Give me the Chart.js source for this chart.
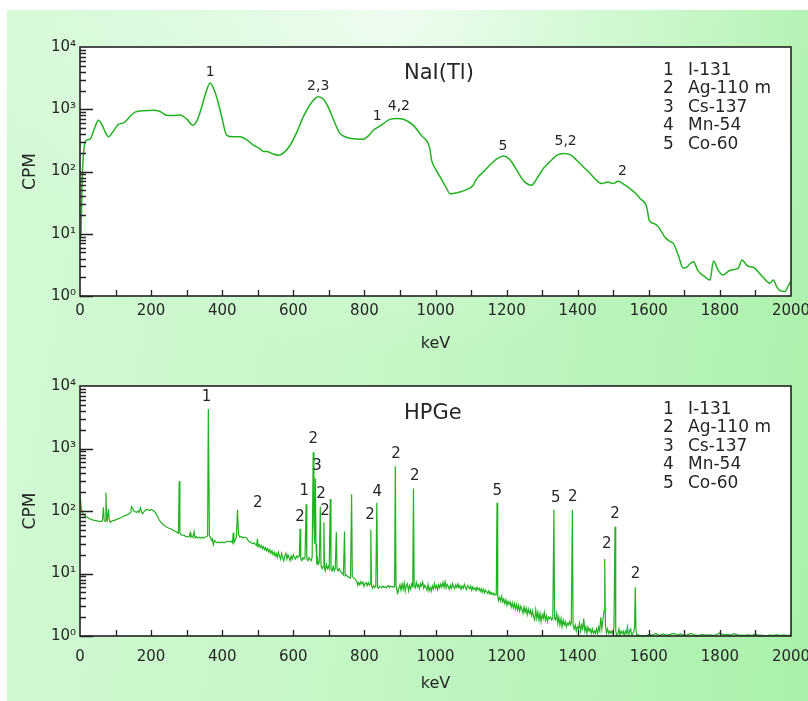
<!DOCTYPE html>
<html>
<head>
<meta charset="utf-8">
<script src="https://cdn.jsdelivr.net/npm/chart.js@4.4.1/dist/chart.umd.min.js"></script>
<style>
  html, body { margin:0; padding:0; background:#ffffff; width:808px; height:701px; overflow:hidden; }
  #bg { position:absolute; left:7px; top:10px; width:801px; height:691px;
        background:
          radial-gradient(ellipse 55% 50% at 48% 0%, rgba(255,255,255,0.7) 0%, rgba(255,255,255,0.35) 45%, rgba(255,255,255,0) 100%),
          linear-gradient(100deg, #d4f9d6 0%, #c6f7c8 45%, #aaf1aa 100%); }
  .box { position:absolute; left:0; width:808px; }
  #topBox { top:0; height:360px; }
  #botBox { top:360px; height:341px; }
</style>
</head>
<body>
<div id="bg"></div>
<div class="box" id="topBox"><canvas id="naiChart" width="808" height="360"></canvas></div>
<div class="box" id="botBox"><canvas id="hpgeChart" width="808" height="341"></canvas></div>
<script>
// ---------- DATA ----------
const nuclideNumbers = ['1','2','3','4','5'];
const nuclideNames = ['I-131','Ag-110 m','Cs-137','Mn-54','Co-60'];
const yTickValues = [1, 10, 100, 1000, 10000];
const yTickLabels = ['10\u2070','10\u00B9','10\u00B2','10\u00B3','10\u2074'];

// NaI(Tl) spectrum: [keV, CPM]
const naiSpectrum = [[0,8],[3,11],[6,70],[10,200],[17,315],[28,330],[40,480],[52,665],[62,560],[72,420],[80,360],[92,430],[108,570],[124,610],[140,760],[155,900],[180,950],[206,965],[225,920],[244,800],[262,790],[281,810],[300,700],[317,555],[328,640],[340,980],[352,1700],[366,2650],[378,2000],[389,1260],[400,700],[412,385],[430,360],[450,360],[470,320],[488,265],[505,235],[516,210],[525,210],[540,195],[558,183],[575,205],[591,264],[610,430],[628,755],[650,1250],[670,1590],[685,1450],[698,1095],[715,640],[731,410],[750,355],[769,335],[797,330],[808,360],[816,400],[825,460],[844,540],[870,680],[891,710],[910,690],[937,555],[960,380],[984,235],[989,152],[1000,110],[1013,82],[1030,55],[1041,44],[1069,47],[1090,52],[1106,60],[1113,72],[1120,82],[1136,100],[1153,127],[1175,162],[1191,177],[1207,160],[1223,119],[1240,82],[1251,68],[1270,60],[1282,72],[1294,93],[1305,115],[1317,135],[1325,150],[1340,180],[1360,195],[1380,185],[1397,152],[1415,120],[1435,93],[1450,75],[1467,64],[1476,66],[1486,68],[1494,65],[1500,64],[1514,70],[1530,62],[1547,53],[1562,45],[1575,37],[1594,27],[1601,16.6],[1615,14.5],[1627,12.9],[1646,8.7],[1660,7.5],[1669,7.0],[1683,4.5],[1697,2.8],[1707,2.9],[1716,3.3],[1726,3.55],[1738,2.55],[1755,2.1],[1772,1.8],[1782,3.65],[1795,2.6],[1808,2.17],[1829,2.6],[1852,2.8],[1862,3.8],[1876,3.1],[1885,2.95],[1894,2.9],[1915,2.2],[1941,1.6],[1950,1.8],[1960,1.4],[1969,1.22],[1983,1.18],[1992,1.45],[1999,1.7]];

// HPGe spectrum: [keV, CPM]
const hpgeSpectrum = [[0,190],[3,120],[6,95],[10,88],[15,82],[20,80],[25,76],[30,74],[35,72],[40,71],[45,70],[50,69],[55,68],[60,68],[63,70],[66,115],[68,72],[71,68],[73,195],[75,80],[77,72],[80,108],[82,75],[85,66],[88,68],[92,70],[96,71],[100,72],[105,74],[110,76],[115,78],[120,80],[125,84],[130,86],[135,88],[140,92],[143,96],[145,118],[148,110],[151,100],[155,98],[159,95],[163,100],[166,94],[170,112],[173,96],[176,90],[180,98],[184,103],[188,106],[192,104],[196,102],[200,106],[204,104],[208,100],[212,94],[216,86],[220,78],[224,70],[228,66],[232,62],[236,59],[240,57],[245,55],[250,53],[255,52],[260,50],[265,48],[270,47],[274,45],[277,44],[279,300],[281,46],[283,42],[287,41],[291,41],[295,40],[299,39],[303,39],[307,39],[310,45],[312,38],[315,40],[318,38],[321,47],[324,37],[328,39],[332,37],[336,38],[340,37],[344,38],[348,37],[352,38],[356,39],[359,40],[361,4300],[364,40],[367,38],[370,34],[372,36],[375,29],[378,34],[382,32],[386,31],[390,32],[395,31],[400,32],[405,31],[410,32],[415,33],[420,32],[425,33],[429,31],[431,45],[433,31],[436,34],[440,38],[443,105],[446,42],[450,38],[454,39],[458,37],[462,38],[466,38],[470,36],[474,33],[478,32],[482,31],[486,30],[490,31],[494,29],[497,28],[499,36],[501,27],[504,29],[507,26],[510,28],[513,25],[516,27],[519,24],[522,26],[525,23],[528,25],[531,22],[534,24],[537,21],[540,23],[543,20],[546,22],[549,19],[552,21],[555,18],[558,22],[561,19],[564,17],[567,21],[570,18],[573,16],[576,19],[579,21],[582,17],[585,20],[588,18],[591,16],[594,19],[597,17],[600,20],[603,18],[606,17],[609,19],[612,18],[615,19],[617,19],[619,52],[621,17],[624,16],[627,18],[630,17],[633,18],[636,128],[638,17],[641,16],[644,18],[647,17],[650,16],[653,18],[656,870],[658,60],[660,30],[662,330],[664,30],[666,14],[668,17],[670,14],[673,15],[676,118],[678,13],[681,12],[684,13],[686,66],[688,12],[690,11],[693,14],[696,12],[699,13],[701,12],[704,155],[706,12],[709,11],[712,13],[715,11],[718,12],[721,46],[723,12],[726,11],[729,12],[732,11],[735,10.5],[738,10],[741,9.5],[744,47],[746,9.2],[749,9.5],[752,9],[755,8.8],[758,8.6],[761,8.5],[764,185],[766,9],[769,8.5],[772,8.3],[775,8],[778,7.6],[781,6.5],[784,7.2],[787,6.6],[790,7.4],[793,6.8],[796,7.3],[799,6.2],[802,6.9],[805,7.1],[808,6.4],[811,7.2],[814,6.5],[816,6.8],[818,50],[820,6.3],[823,5.8],[826,6.4],[829,6],[832,6.2],[835,135],[837,6],[840,5.8],[843,6.2],[846,6.1],[849,5.9],[852,6.3],[855,6],[858,6.1],[861,5.9],[864,6.2],[867,6.4],[870,6],[873,6.3],[876,6.1],[879,6.2],[882,6],[885,6.3],[887,520],[889,6.2],[891,5.5],[894,4.9],[897,5.8],[900,6.6],[903,5.4],[906,6.8],[909,5.6],[912,7.1],[915,5.2],[918,6.5],[921,6.9],[924,5.3],[927,6.4],[930,5.6],[933,6.8],[936,6.2],[938,230],[940,6.4],[943,5.9],[946,7.2],[949,6.1],[952,6.6],[955,5.7],[958,6.9],[961,6.3],[964,7.3],[967,5.8],[970,6.5],[973,6.1],[976,5.4],[979,6.7],[982,5.3],[985,6.0],[988,5.2],[991,6.3],[994,5.6],[997,6.9],[1000,5.8],[1003,6.4],[1006,5.5],[1009,6.6],[1012,5.9],[1015,6.8],[1018,6.1],[1021,7.2],[1024,6.0],[1027,7.4],[1030,5.9],[1033,6.7],[1036,6.2],[1039,5.6],[1042,6.5],[1045,5.8],[1048,6.9],[1051,6.1],[1054,5.7],[1057,6.6],[1060,6.0],[1063,6.8],[1066,5.9],[1069,6.4],[1072,5.6],[1075,6.3],[1078,5.8],[1081,6.7],[1084,6.0],[1087,5.5],[1090,6.4],[1093,6.1],[1096,5.7],[1099,6.3],[1102,5.4],[1105,6.1],[1108,5.6],[1111,5.9],[1114,5.3],[1117,6.0],[1120,5.5],[1123,5.8],[1126,5.2],[1129,5.7],[1132,5.0],[1135,5.6],[1138,4.9],[1141,5.4],[1144,5.1],[1147,4.8],[1150,5.3],[1153,4.7],[1156,5.0],[1159,4.6],[1162,4.9],[1165,4.5],[1168,4.7],[1171,4.6],[1173,135],[1175,4.4],[1177,3.7],[1180,4.1],[1183,3.6],[1186,4.3],[1189,3.5],[1192,3.9],[1195,3.3],[1198,3.8],[1201,3.1],[1204,3.6],[1207,3.2],[1210,3.5],[1213,2.9],[1216,3.4],[1219,2.8],[1222,3.3],[1225,2.7],[1228,3.2],[1231,2.6],[1234,3.1],[1237,2.5],[1240,3.0],[1243,2.7],[1246,2.3],[1249,2.9],[1252,2.4],[1255,2.8],[1258,2.2],[1261,2.7],[1264,2.3],[1267,2.6],[1270,2.1],[1273,2.5],[1276,2.0],[1279,1.8],[1282,2.6],[1285,1.9],[1288,2.4],[1291,1.8],[1294,2.3],[1297,1.7],[1300,2.2],[1303,1.9],[1306,2.4],[1309,1.8],[1312,2.1],[1315,1.7],[1318,2.0],[1321,1.9],[1324,2.0],[1327,1.8],[1330,1.9],[1333,105],[1335,1.9],[1338,1.8],[1341,2.3],[1344,1.6],[1347,2.0],[1350,1.5],[1353,1.9],[1356,1.4],[1359,1.8],[1362,1.5],[1365,1.7],[1368,1.4],[1371,1.6],[1374,1.5],[1377,1.7],[1380,1.5],[1382,1.6],[1385,105],[1387,1.5],[1390,1.3],[1393,1.5],[1396,1.2],[1399,1.4],[1402,1.3],[1405,1.6],[1408,1.2],[1411,1.5],[1414,1.3],[1417,1.9],[1420,1.2],[1423,1.4],[1426,1.1],[1429,1.4],[1432,1.2],[1435,1.3],[1438,1.1],[1441,1.3],[1444,1.1],[1447,1.2],[1450,1.1],[1453,1.3],[1456,1.1],[1459,1.4],[1462,1.2],[1465,2.0],[1468,1.3],[1471,1.8],[1474,2.5],[1476,17],[1478,1.5],[1481,1.1],[1484,1.3],[1487,1.1],[1490,1.2],[1493,1.1],[1496,1.2],[1499,1.1],[1502,1.4],[1505,56],[1507,1.2],[1510,1.0],[1513,1.1],[1516,1.3],[1519,1.0],[1522,1.2],[1525,1.1],[1528,1.2],[1531,1.0],[1534,1.2],[1537,1.1],[1540,1.4],[1543,1.0],[1546,1.2],[1549,1.3],[1552,1.0],[1555,1.1],[1558,1.2],[1560,1.4],[1562,6.0],[1564,1.2],[1567,1.0],[1570,1.05],[1575,1.0],[1580,1.02],[1590,1.0],[1600,1.05],[1610,1.03],[1620,1.1],[1630,1.02],[1640,1.08],[1650,1.03],[1660,1.06],[1670,1.1],[1680,1.04],[1690,1.08],[1700,1.02],[1710,1.05],[1720,1.1],[1730,1.03],[1740,1.02],[1750,1.06],[1760,1.03],[1770,1.04],[1780,1.02],[1790,1.05],[1800,1.12],[1810,1.04],[1820,1.06],[1830,1.03],[1840,1.09],[1850,1.04],[1860,1.03],[1870,1.02],[1880,1.04],[1890,1.02],[1900,1.08],[1910,1.03],[1920,1.02],[1930,1.01],[1940,1.03],[1950,1.02],[1960,1.04],[1970,1.02],[1980,1.03],[1990,1.02],[2000,1.03]];

// Peak labels: [keV, CPM at label, text]
const naiPeakLabels = [[366,3870,'1'],[670,2330,'2,3'],[836,760,'1'],[897,1120,'4,2'],[1190,253,'5'],[1366,305,'5,2'],[1526,100,'2']];
const hpgePeakLabels = [[356,6600,'1'],[656,1420,'2'],[667,528,'3'],[631,205,'1'],[678,185,'2'],[689,100,'2'],[619,80,'2'],[500,136,'2'],[836,197,'4'],[816,86,'2'],[889,813,'2'],[942,364,'2'],[1174,209,'5'],[1338,159,'5'],[1386,164,'2'],[1505,88,'2'],[1482,29,'2'],[1563,9.9,'2']];

// ---------- RENDERING ----------
const FONT = "'DejaVu Sans', 'Liberation Sans', sans-serif";
const TEXT = '#262626';
const LINE = '#20b220';

function frameAndText(opts) {
  return {
    id: 'frameAndText',
    beforeDraw(chart) {
      const {ctx, chartArea: a} = chart;
      ctx.save();
      ctx.fillStyle = '#ffffff';
      ctx.fillRect(a.left, a.top, a.right - a.left, a.bottom - a.top);
      ctx.restore();
    },
    afterDraw(chart) {
      const {ctx, chartArea: a, scales: {x, y}} = chart;
      ctx.save();
      ctx.strokeStyle = '#222';
      ctx.lineWidth = 1.3;
      ctx.beginPath();
      for (let v = 100; v < 2000; v += 100) {
        const px = Math.round(x.getPixelForValue(v)) + 0.5;
        ctx.moveTo(px, a.bottom); ctx.lineTo(px, a.bottom - 6);
      }
      for (let d = 0; d < 4; d++) {
        for (let m = 1; m < 10; m++) {
          const v = m * Math.pow(10, d);
          const py = Math.round(y.getPixelForValue(v)) + 0.5;
          const len = m === 1 ? 13 : 6;
          ctx.moveTo(a.left, py); ctx.lineTo(a.left + len, py);
        }
      }
      ctx.stroke();
      ctx.lineWidth = 1.6;
      ctx.strokeRect(a.left, a.top, a.right - a.left, a.bottom - a.top);

      // peak labels
      ctx.fillStyle = TEXT;
      ctx.textAlign = 'center';
      ctx.textBaseline = 'middle';
      ctx.font = opts.peakFont + 'px ' + FONT;
      opts.peaks.forEach(([k, c, t]) => {
        ctx.fillText(t, x.getPixelForValue(k), y.getPixelForValue(c));
      });

      // panel title
      ctx.textAlign = 'left';
      ctx.font = '21px ' + FONT;
      ctx.fillText(opts.title, 404, a.top + opts.titleOffset);

      // nuclide legend
      ctx.font = '17px ' + FONT;
      nuclideNumbers.forEach((n, i) => {
        const py = a.top + 23.5 + i * 18.5;
        ctx.fillText(n, 663, py);
        ctx.fillText(nuclideNames[i], 688, py);
      });
      ctx.restore();
    }
  };
}

function makeChart(id, spectrum, smooth, lw, peaks, title, titleOffset, padTop, xAxisH, tickPad, titlePadB, peakFont) {
  return new Chart(document.getElementById(id), {
    type: 'line',
    data: {
      datasets: [{
        data: spectrum.map(([k, c]) => ({x: k, y: c})),
        borderColor: LINE,
        borderWidth: lw,
        pointRadius: 0,
        fill: false,
        cubicInterpolationMode: smooth ? 'monotone' : 'default',
        tension: 0
      }]
    },
    options: {
      responsive: false,
      animation: false,
      events: [],
      layout: { padding: { top: padTop, right: 17, left: 0, bottom: 0 } },
      plugins: { legend: { display: false }, tooltip: { enabled: false } },
      scales: {
        x: {
          type: 'linear', min: 0, max: 2000,
          grid: { display: false, drawTicks: false },
          border: { display: false },
          ticks: { stepSize: 200, padding: tickPad, color: TEXT, font: { family: FONT, size: 15 }, maxRotation: 0,
                   callback: (v) => String(v) },
          title: { display: true, text: 'keV', color: TEXT, font: { family: FONT, size: 16 }, padding: { top: 0, bottom: titlePadB } },
          afterFit(s) { s.height = xAxisH; s.paddingLeft = 0; s.paddingRight = 0; }
        },
        y: {
          type: 'logarithmic', min: 1, max: 10000,
          grid: { display: false, drawTicks: false },
          border: { display: false },
          afterBuildTicks(s) { s.ticks = yTickValues.map(v => ({ value: v, major: true })); },
          ticks: {
            padding: 4, color: TEXT, font: { family: FONT, size: 15 },
            callback: (v) => { const i = yTickValues.indexOf(v); return i >= 0 ? yTickLabels[i] : ''; }
          },
          title: { display: true, text: 'CPM', color: TEXT, font: { family: FONT, size: 17 }, padding: { top: 20, bottom: 0 } },
          afterFit(s) { s.width = 80; s.paddingTop = 0; s.paddingBottom = 0; }
        }
      }
    },
    plugins: [frameAndText({ peaks, title, titleOffset, peakFont })]
  });
}

makeChart('naiChart', naiSpectrum, true, 1.5, naiPeakLabels, 'NaI(Tl)', 26.5, 47, 64, 6, 7, 14);
makeChart('hpgeChart', hpgeSpectrum, false, 1.2, hpgePeakLabels, 'HPGe', 28, 26, 65, 12, 8, 15);
</script>
</body>
</html>
